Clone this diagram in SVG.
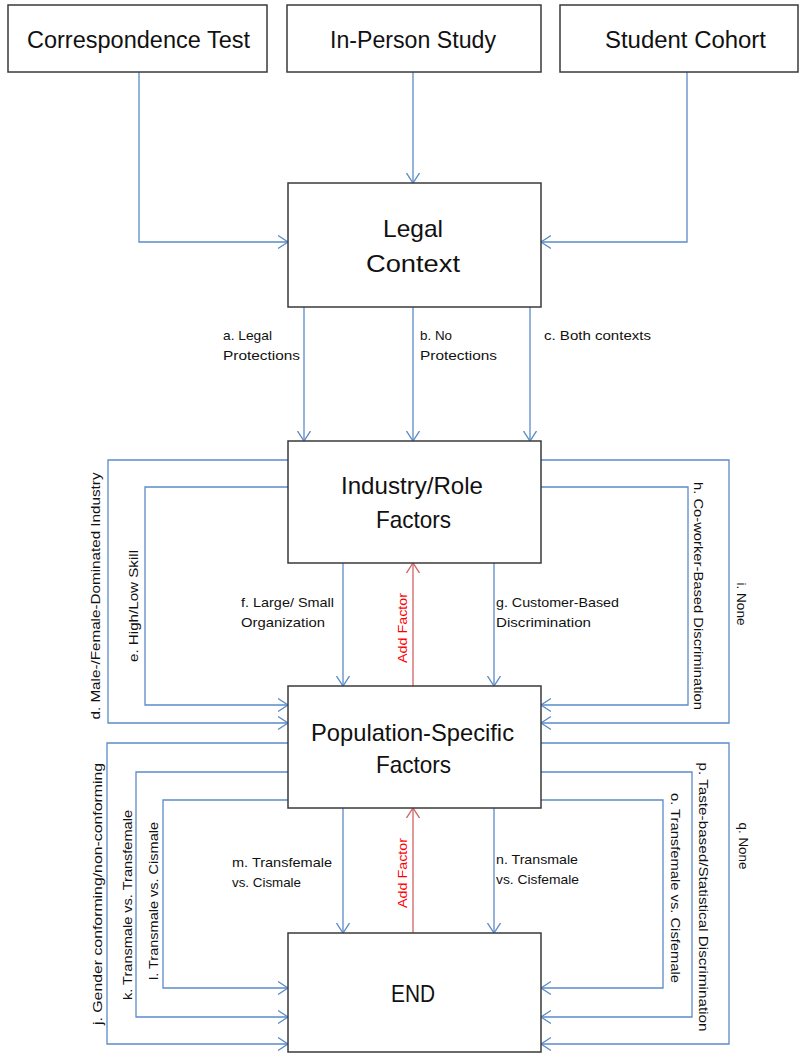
<svg xmlns="http://www.w3.org/2000/svg" width="804" height="1055" viewBox="0 0 804 1055">
<style>
.box{fill:#fff;stroke:#3a3a3a;stroke-width:1.5}
.big{font-family:"Liberation Sans",Arial,sans-serif;font-size:23px;fill:#111}
.mid{font-family:"Liberation Sans",Arial,sans-serif;font-size:24px;fill:#111}
.lbl{font-family:"Liberation Sans",Arial,sans-serif;font-size:13.5px;fill:#111}
.rl{font-family:"Liberation Sans",Arial,sans-serif;font-size:13.5px;fill:#111;text-anchor:middle;dominant-baseline:central}
.red{font-family:"Liberation Sans",Arial,sans-serif;font-size:13.5px;fill:#ff0000;text-anchor:middle;dominant-baseline:central}
.c{fill:none;stroke:#5b8bc9;stroke-width:1.3;marker-end:url(#ah)}
.r{fill:none;stroke:#d06464;stroke-width:1.3;marker-end:url(#ahr)}
</style>
<defs>
<marker id="ah" markerWidth="12" markerHeight="14" refX="10" refY="7" orient="auto" markerUnits="userSpaceOnUse">
<path d="M0,0.5 L10,7 L0,13.5" fill="none" stroke="#5b8bc9" stroke-width="1.3"/>
</marker>
<marker id="ahr" markerWidth="12" markerHeight="14" refX="10" refY="7" orient="auto" markerUnits="userSpaceOnUse">
<path d="M0,0.5 L10,7 L0,13.5" fill="none" stroke="#d06464" stroke-width="1.3"/>
</marker>
</defs>
<rect width="804" height="1055" fill="#fff"/>
<g id="connectors">
<path class="c" d="M139,72 V242 H288"/>
<path class="c" d="M413,72 V183"/>
<path class="c" d="M687,72 V242 H541"/>
<path class="c" d="M304,307 V441"/>
<path class="c" d="M413,307 V441"/>
<path class="c" d="M530,307 V441"/>
<path class="c" d="M288,460 H108 V723 H288"/>
<path class="c" d="M288,487 H145 V705 H288"/>
<path class="c" d="M343,563 V686"/>
<path class="r" d="M413,686 V563"/>
<path class="c" d="M494,563 V686"/>
<path class="c" d="M541,487 H688 V705 H541"/>
<path class="c" d="M541,460 H729 V723 H541"/>
<path class="c" d="M288,743 H107 V1044 H288"/>
<path class="c" d="M288,772 H136 V1017 H288"/>
<path class="c" d="M288,800 H163 V988 H288"/>
<path class="c" d="M343,808 V933"/>
<path class="r" d="M413,933 V808"/>
<path class="c" d="M494,808 V933"/>
<path class="c" d="M541,800 H663 V988 H541"/>
<path class="c" d="M541,772 H692 V1017 H541"/>
<path class="c" d="M541,743 H729 V1044 H541"/>
<text class="lbl" x="223" y="340" textLength="49" lengthAdjust="spacingAndGlyphs">a. Legal</text>
<text class="lbl" x="223" y="360" textLength="77" lengthAdjust="spacingAndGlyphs">Protections</text>
<text class="lbl" x="420" y="340" textLength="32" lengthAdjust="spacingAndGlyphs">b. No</text>
<text class="lbl" x="420" y="360" textLength="77" lengthAdjust="spacingAndGlyphs">Protections</text>
<text class="lbl" x="544" y="340" textLength="107" lengthAdjust="spacingAndGlyphs">c. Both contexts</text>
<text class="lbl" x="241" y="607" textLength="93" lengthAdjust="spacingAndGlyphs">f. Large/ Small</text>
<text class="lbl" x="241" y="627" textLength="84" lengthAdjust="spacingAndGlyphs">Organization</text>
<text class="lbl" x="496" y="607" textLength="123" lengthAdjust="spacingAndGlyphs">g. Customer-Based</text>
<text class="lbl" x="496" y="627" textLength="95" lengthAdjust="spacingAndGlyphs">Discrimination</text>
<text class="lbl" x="232" y="867" textLength="100" lengthAdjust="spacingAndGlyphs">m. Transfemale</text>
<text class="lbl" x="232" y="887" textLength="69" lengthAdjust="spacingAndGlyphs">vs. Cismale</text>
<text class="lbl" x="496" y="864" textLength="82" lengthAdjust="spacingAndGlyphs">n. Transmale</text>
<text class="lbl" x="496" y="884" textLength="83" lengthAdjust="spacingAndGlyphs">vs. Cisfemale</text>
<text class="rl" transform="translate(95,596) rotate(-90)" textLength="247" lengthAdjust="spacingAndGlyphs">d. Male-/Female-Dominated Industry</text>
<text class="rl" transform="translate(133,606) rotate(-90)" textLength="112" lengthAdjust="spacingAndGlyphs">e. High/Low Skill</text>
<text class="rl" transform="translate(698,596) rotate(90)" textLength="228" lengthAdjust="spacingAndGlyphs">h. Co-worker-Based Discrimination</text>
<text class="rl" transform="translate(741,604) rotate(90)" textLength="43" lengthAdjust="spacingAndGlyphs">i. None</text>
<text class="red" transform="translate(402,628) rotate(-90)" textLength="70" lengthAdjust="spacingAndGlyphs">Add Factor</text>
<text class="rl" transform="translate(97,894) rotate(-90)" textLength="262" lengthAdjust="spacingAndGlyphs">j. Gender conforming/non-conforming</text>
<text class="rl" transform="translate(127,905) rotate(-90)" textLength="190" lengthAdjust="spacingAndGlyphs">k. Transmale vs. Transfemale</text>
<text class="rl" transform="translate(153,901) rotate(-90)" textLength="158" lengthAdjust="spacingAndGlyphs">l. Transmale vs. Cismale</text>
<text class="red" transform="translate(402,873) rotate(-90)" textLength="70" lengthAdjust="spacingAndGlyphs">Add Factor</text>
<text class="rl" transform="translate(675,888) rotate(90)" textLength="190" lengthAdjust="spacingAndGlyphs">o. Transfemale vs. Cisfemale</text>
<text class="rl" transform="translate(703,897) rotate(90)" textLength="269" lengthAdjust="spacingAndGlyphs">p. Taste-based/Statistical Discrimination</text>
<text class="rl" transform="translate(743,846) rotate(90)" textLength="47" lengthAdjust="spacingAndGlyphs">q. None</text>
</g>
<g id="correspondence"><rect class="box" x="8" y="5" width="259" height="67"/><text class="big" x="27" y="48" textLength="223" lengthAdjust="spacingAndGlyphs">Correspondence Test</text></g>
<g id="inperson"><rect class="box" x="287" y="5" width="254" height="67"/><text class="big" x="330" y="48" textLength="166" lengthAdjust="spacingAndGlyphs">In-Person Study</text></g>
<g id="cohort"><rect class="box" x="560" y="5" width="238" height="67"/><text class="big" x="605" y="48" textLength="161" lengthAdjust="spacingAndGlyphs">Student Cohort</text></g>
<g id="legal"><rect class="box" x="288" y="183" width="253" height="124"/><text class="mid" x="383" y="237" textLength="60" lengthAdjust="spacingAndGlyphs">Legal</text><text class="mid" x="366" y="272" textLength="94" lengthAdjust="spacingAndGlyphs">Context</text></g>
<g id="industry"><rect class="box" x="288" y="441" width="253" height="122"/><text class="mid" x="341" y="494" textLength="142" lengthAdjust="spacingAndGlyphs">Industry/Role</text><text class="mid" x="376" y="528" textLength="75" lengthAdjust="spacingAndGlyphs">Factors</text></g>
<g id="population"><rect class="box" x="288" y="686" width="253" height="122"/><text class="mid" x="311" y="741" textLength="203" lengthAdjust="spacingAndGlyphs">Population-Specific</text><text class="mid" x="376" y="773" textLength="75" lengthAdjust="spacingAndGlyphs">Factors</text></g>
<g id="end"><rect class="box" x="288" y="933" width="253" height="119"/><text class="mid" x="391" y="1002" textLength="44" lengthAdjust="spacingAndGlyphs">END</text></g>
</svg>
